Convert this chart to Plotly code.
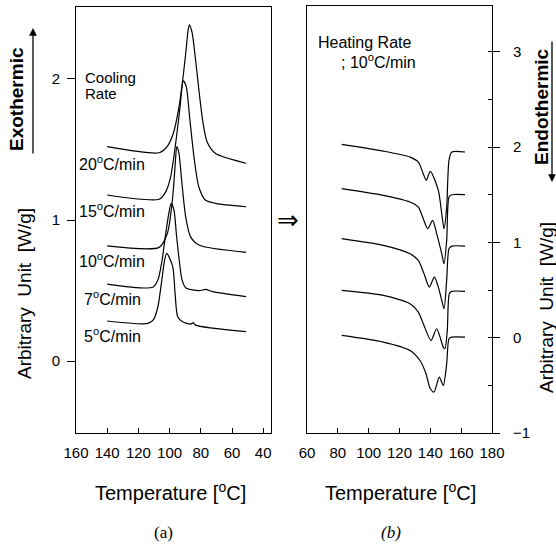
import plotly.graph_objects as go

# ---------------- data ----------------
# (a) cooling scans: temperature [°C] and heat flow [W/g, offset]
cool_20_T = [140, 106.7, 101.6, 97.6, 94.0, 91.2, 89.5, 88.1, 87.3, 85.6, 83.2, 81.0, 78.6, 76.0, 70.7, 51]
cool_20_V = [1.52, 1.477, 1.52, 1.615, 1.80, 2.03, 2.20, 2.348, 2.383, 2.33, 2.12, 1.90, 1.69, 1.555, 1.473, 1.402]

cool_15_T = [140, 106.7, 102.4, 99.3, 96.1, 93.5, 91.2, 89.3, 87.2, 84.4, 81.3, 77.1, 70.7, 51]
cool_15_V = [1.177, 1.147, 1.201, 1.307, 1.544, 1.780, 1.986, 1.945, 1.733, 1.449, 1.236, 1.142, 1.118, 1.094]

cool_10_T = [140, 106.7, 101.4, 98.2, 96.5, 95.4, 94.0, 92.3, 89.7, 86.6, 81.3, 51]
cool_10_V = [0.816, 0.806, 0.906, 1.142, 1.378, 1.520, 1.473, 1.284, 1.023, 0.882, 0.823, 0.771]

cool_7_T = [140, 110.7, 107.5, 105.0, 102.6, 100.7, 99.0, 97.2, 95.6, 93.7, 92.0, 89.5, 81.0, 76.8, 72.5, 51]
cool_7_V = [0.546, 0.523, 0.574, 0.702, 0.894, 1.035, 1.118, 1.071, 0.894, 0.702, 0.574, 0.518, 0.499, 0.508, 0.492, 0.457]

cool_5_T = [140, 113.8, 110.2, 107.5, 105.0, 103.2, 101.8, 98.0, 96.5, 94.8, 91.7, 86.4, 84.9, 83.4, 51]
cool_5_V = [0.284, 0.267, 0.296, 0.385, 0.574, 0.716, 0.764, 0.669, 0.480, 0.314, 0.279, 0.262, 0.272, 0.255, 0.208]

cool_labels = ["20<sup>o</sup>C/min", "15<sup>o</sup>C/min", "10<sup>o</sup>C/min",
               "7<sup>o</sup>C/min", "5<sup>o</sup>C/min"]

# (b) heating scans at 10 °C/min (offset curves, top to bottom)
heat_1_T = [82.5, 109.5, 126.8, 132.2, 135.4, 137.3, 140.0, 145.2, 147.4, 148.9, 150.6, 152.1, 153.9, 162.5]
heat_1_V = [2.028, 1.958, 1.895, 1.843, 1.721, 1.651, 1.745, 1.546, 1.301, 1.144, 1.370, 1.860, 1.948, 1.948]

heat_2_T = [82.5, 109.5, 126.8, 132.2, 135.4, 138.3, 141.5, 144.1, 147.4, 148.9, 150.6, 152.1, 153.9, 162.5]
heat_2_V = [1.563, 1.493, 1.423, 1.370, 1.249, 1.144, 1.231, 1.091, 0.881, 0.776, 1.021, 1.475, 1.500, 1.500]

heat_3_T = [82.5, 109.5, 126.8, 132.2, 135.9, 139.3, 142.6, 145.2, 147.4, 148.9, 150.6, 152.1, 153.9, 162.5]
heat_3_V = [1.039, 0.968, 0.881, 0.811, 0.672, 0.531, 0.636, 0.531, 0.391, 0.304, 0.601, 0.934, 0.961, 0.961]

heat_4_T = [82.5, 109.5, 126.8, 132.2, 135.9, 140.4, 144.1, 146.3, 148.4, 149.5, 151.0, 152.3, 153.9, 162.5]
heat_4_V = [0.496, 0.444, 0.357, 0.269, 0.128, -0.030, 0.094, 0.006, -0.099, -0.116, 0.077, 0.461, 0.486, 0.486]

heat_5_T = [82.5, 109.5, 126.8, 133.3, 137.2, 139.8, 142.4, 145.8, 148.4, 150.6, 152.1, 153.9, 162.5]
heat_5_V = [0.024, -0.046, -0.134, -0.239, -0.378, -0.53, -0.57, -0.413, -0.50, -0.273, -0.011, 0.006, 0.006]

left_x_ticks = [160, 140, 120, 100, 80, 60, 40]
left_y_ticks = [0, 1, 2]
right_x_ticks = [60, 80, 100, 120, 140, 160, 180]
right_y_ticks = [-1, 0, 1, 2, 3]

# ---------------- figure ----------------
W, H = 556, 547
def px(x):
    return x / W
def py(y):
    return 1 - y / H

FONT = "Liberation Sans, Arial, sans-serif"
line = dict(color="black", width=1.2, shape="spline", smoothing=0.7)

fig = go.Figure()
for T, V in [(cool_20_T, cool_20_V), (cool_15_T, cool_15_V), (cool_10_T, cool_10_V),
             (cool_7_T, cool_7_V), (cool_5_T, cool_5_V)]:
    fig.add_trace(go.Scatter(x=T, y=V, mode="lines", line=line, xaxis="x", yaxis="y",
                             showlegend=False, hoverinfo="skip"))
for T, V in [(heat_1_T, heat_1_V), (heat_2_T, heat_2_V), (heat_3_T, heat_3_V),
             (heat_4_T, heat_4_V), (heat_5_T, heat_5_V)]:
    fig.add_trace(go.Scatter(x=T, y=V, mode="lines", line=line, xaxis="x2", yaxis="y2",
                             showlegend=False, hoverinfo="skip"))

axis_common = dict(showline=True, linecolor="black", linewidth=1, mirror=True,
                   showgrid=False, zeroline=False, tickcolor="black", automargin=False,
                   tickfont=dict(family=FONT, size=15, color="black"))

fig.update_layout(
    width=W, height=H, margin=dict(l=0, r=0, t=0, b=0, autoexpand=False),
    paper_bgcolor="white", plot_bgcolor="white", showlegend=False,
    xaxis=dict(domain=[px(76), px(271)], range=[160, 35], tickvals=left_x_ticks,
               ticks="inside", ticklen=5, ticklabelstandoff=6, anchor="y", **axis_common),
    yaxis=dict(domain=[py(433), py(7)], range=[-0.51, 2.51], tickvals=left_y_ticks,
               ticks="outside", ticklen=8, ticklabelstandoff=4, anchor="x", **axis_common),
    xaxis2=dict(domain=[px(307), px(492)], range=[60, 180], tickvals=right_x_ticks,
                ticks="inside", ticklen=5, ticklabelstandoff=6, anchor="y2", **axis_common),
    yaxis2=dict(domain=[py(433), py(6)], range=[-1.0, 3.48], tickvals=right_y_ticks,
                side="right", ticks="outside", ticklen=7, ticklabelstandoff=10, anchor="x2",
                minor=dict(ticks="inside", dtick=0.5, ticklen=4, tickcolor="black"),
                **axis_common),
)

ann = []
def text(x, y, s, size=16, xanchor="left", angle=0, bold=False, family=FONT, italic=False):
    if bold:
        s = "<b>" + s + "</b>"
    if italic:
        s = "<i>" + s + "</i>"
    ann.append(dict(x=px(x), y=py(y), xref="paper", yref="paper", text=s, showarrow=False,
                    xanchor=xanchor, yanchor="middle", textangle=angle,
                    font=dict(family=family, size=size, color="black")))

text(83, 78, "Cooling", 15)
text(83, 94, "Rate", 15)
label_pos = [(77, 163), (77, 210), (77, 260), (82, 298), (82, 335)]
for (lx, ly), s in zip(label_pos, cool_labels):
    text(lx, ly, s, 16)
text(316, 42, "Heating Rate", 16)
text(339, 61, "; 10<sup>o</sup>C/min", 16)
text(288, 220, "⇒", 26, xanchor="center", family="DejaVu Sans")
text(17, 99, "Exothermic", 19, xanchor="center", angle=-90, bold=True)
text(24, 294, "Arbitrary  Unit  [W/g]", 19, xanchor="center", angle=-90)
text(541, 107, "Endothermic", 19, xanchor="center", angle=-90, bold=True)
text(546, 308, "Arbitrary  Unit  [W/g]", 19, xanchor="center", angle=-90)
text(170, 491, "Temperature [<sup>o</sup>C]", 20, xanchor="center")
text(400, 491, "Temperature [<sup>o</sup>C]", 20, xanchor="center")
text(163, 532, "(a)", 17, xanchor="center", family="Liberation Serif, Times New Roman, serif")
text(391, 532, "(b)", 17, xanchor="center", family="Liberation Serif, Times New Roman, serif", italic=True)

# direction arrows (tail offsets in pixels)
ann.append(dict(x=px(33), y=py(28), xref="paper", yref="paper", ax=0, ay=127,
                text="", showarrow=True, arrowhead=2,
                arrowsize=1.2, arrowwidth=1.3, arrowcolor="black"))
ann.append(dict(x=px(552), y=py(182), xref="paper", yref="paper", ax=0, ay=-142,
                text="", showarrow=True, arrowhead=2,
                arrowsize=1.2, arrowwidth=1.3, arrowcolor="black"))

fig.update_layout(annotations=ann)
fig.write_html("out.html")
